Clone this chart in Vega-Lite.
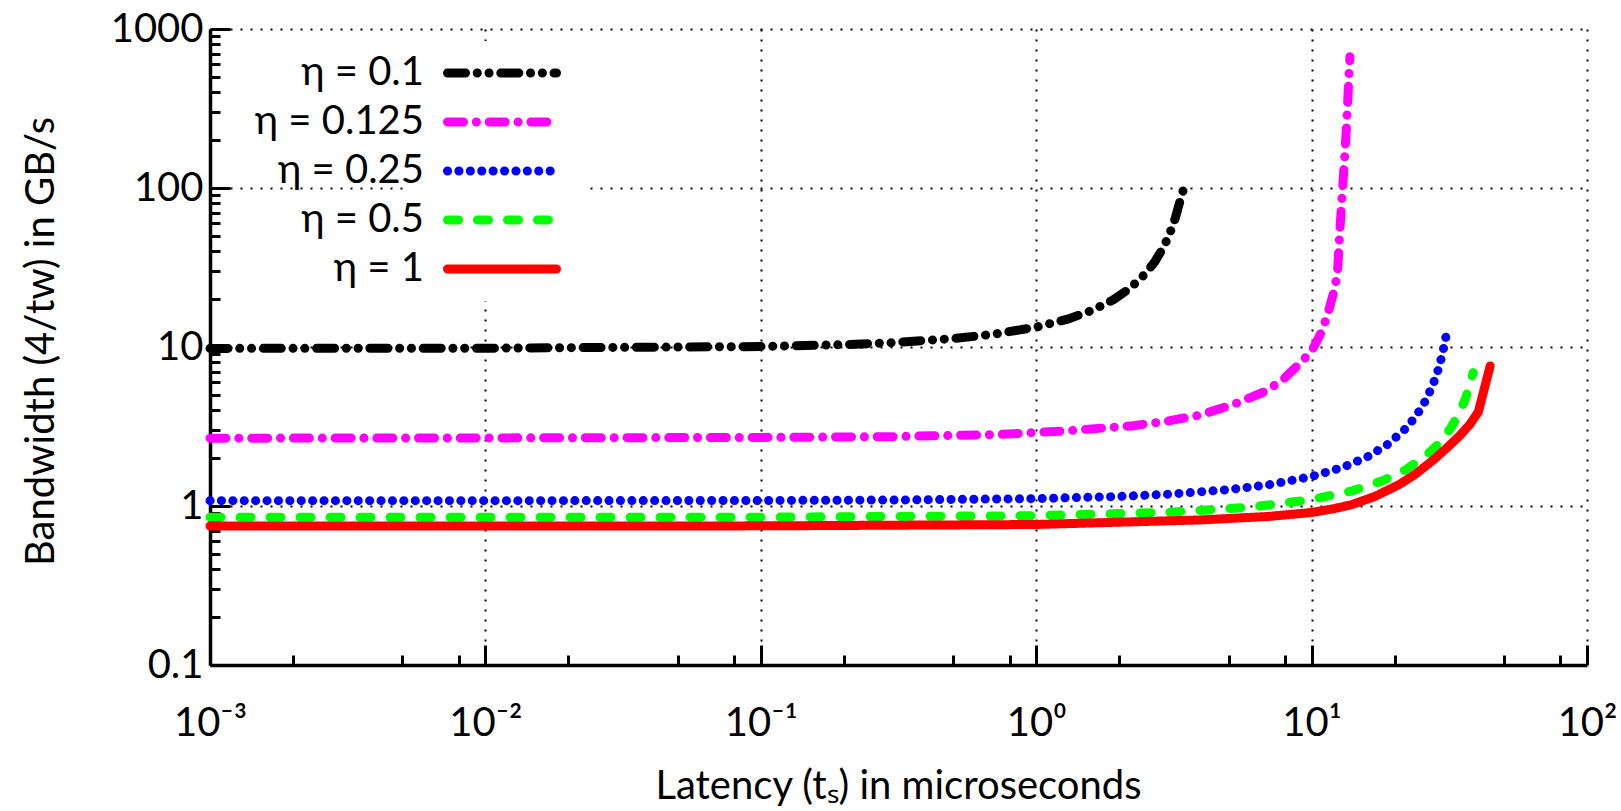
{
  "$schema": "https://vega.github.io/schema/vega-lite/v6.json",
  "width": 1377,
  "height": 636,
  "autosize": {"type": "none"},
  "padding": {"left": 210, "top": 29, "right": 34, "bottom": 146},
  "config": {
    "view": {"stroke": null},
    "font": "Lato"
  },
  "data": {
    "values": [
      {"eta": "η = 0.1", "t": 0.001, "bw": 9.8},
      {"eta": "η = 0.1", "t": 0.01, "bw": 9.83},
      {"eta": "η = 0.1", "t": 0.1, "bw": 10.07},
      {"eta": "η = 0.1", "t": 0.2, "bw": 10.35},
      {"eta": "η = 0.1", "t": 0.3, "bw": 10.65},
      {"eta": "η = 0.1", "t": 0.5, "bw": 11.3},
      {"eta": "η = 0.1", "t": 0.7, "bw": 12.03},
      {"eta": "η = 0.1", "t": 1.0, "bw": 13.34},
      {"eta": "η = 0.1", "t": 1.3, "bw": 14.96},
      {"eta": "η = 0.1", "t": 1.6, "bw": 17.03},
      {"eta": "η = 0.1", "t": 1.9, "bw": 19.76},
      {"eta": "η = 0.1", "t": 2.2, "bw": 23.53},
      {"eta": "η = 0.1", "t": 2.5, "bw": 29.09},
      {"eta": "η = 0.1", "t": 2.7, "bw": 34.53},
      {"eta": "η = 0.1", "t": 2.9, "bw": 42.46},
      {"eta": "η = 0.1", "t": 3.05, "bw": 51.3},
      {"eta": "η = 0.1", "t": 3.2, "bw": 64.8},
      {"eta": "η = 0.1", "t": 3.3, "bw": 78.6},
      {"eta": "η = 0.1", "t": 3.42, "bw": 97},
      {"eta": "η = 0.125", "t": 0.001, "bw": 2.67},
      {"eta": "η = 0.125", "t": 0.01, "bw": 2.68},
      {"eta": "η = 0.125", "t": 0.1, "bw": 2.7},
      {"eta": "η = 0.125", "t": 0.3, "bw": 2.73},
      {"eta": "η = 0.125", "t": 0.74, "bw": 2.82},
      {"eta": "η = 0.125", "t": 1.29, "bw": 2.97},
      {"eta": "η = 0.125", "t": 2.25, "bw": 3.2},
      {"eta": "η = 0.125", "t": 3.0, "bw": 3.42},
      {"eta": "η = 0.125", "t": 3.93, "bw": 3.73},
      {"eta": "η = 0.125", "t": 5.2, "bw": 4.35},
      {"eta": "η = 0.125", "t": 6.87, "bw": 5.3},
      {"eta": "η = 0.125", "t": 8.0, "bw": 6.4},
      {"eta": "η = 0.125", "t": 9.08, "bw": 7.9},
      {"eta": "η = 0.125", "t": 10.0, "bw": 9.4},
      {"eta": "η = 0.125", "t": 10.73, "bw": 11.9},
      {"eta": "η = 0.125", "t": 11.3, "bw": 15},
      {"eta": "η = 0.125", "t": 11.7, "bw": 18.5},
      {"eta": "η = 0.125", "t": 12.1, "bw": 23},
      {"eta": "η = 0.125", "t": 12.41, "bw": 29},
      {"eta": "η = 0.125", "t": 12.69, "bw": 57},
      {"eta": "η = 0.125", "t": 12.96, "bw": 100},
      {"eta": "η = 0.125", "t": 13.14, "bw": 143},
      {"eta": "η = 0.125", "t": 13.41, "bw": 255},
      {"eta": "η = 0.125", "t": 13.6, "bw": 433},
      {"eta": "η = 0.125", "t": 13.78, "bw": 670},
      {"eta": "η = 0.25", "t": 0.001, "bw": 1.08},
      {"eta": "η = 0.25", "t": 0.01, "bw": 1.08},
      {"eta": "η = 0.25", "t": 0.1, "bw": 1.083},
      {"eta": "η = 0.25", "t": 0.3, "bw": 1.09},
      {"eta": "η = 0.25", "t": 1, "bw": 1.113},
      {"eta": "η = 0.25", "t": 2, "bw": 1.148},
      {"eta": "η = 0.25", "t": 3, "bw": 1.185},
      {"eta": "η = 0.25", "t": 5, "bw": 1.267},
      {"eta": "η = 0.25", "t": 7, "bw": 1.361},
      {"eta": "η = 0.25", "t": 10, "bw": 1.532},
      {"eta": "η = 0.25", "t": 13, "bw": 1.752},
      {"eta": "η = 0.25", "t": 16, "bw": 2.045},
      {"eta": "η = 0.25", "t": 19, "bw": 2.457},
      {"eta": "η = 0.25", "t": 22, "bw": 3.077},
      {"eta": "η = 0.25", "t": 24, "bw": 3.698},
      {"eta": "η = 0.25", "t": 26, "bw": 4.635},
      {"eta": "η = 0.25", "t": 27.5, "bw": 5.72},
      {"eta": "η = 0.25", "t": 28.7, "bw": 7.04},
      {"eta": "η = 0.25", "t": 29.7, "bw": 8.72},
      {"eta": "η = 0.25", "t": 30.5, "bw": 10.77},
      {"eta": "η = 0.25", "t": 31.1, "bw": 13.08},
      {"eta": "η = 0.5", "t": 0.001, "bw": 0.849},
      {"eta": "η = 0.5", "t": 0.01, "bw": 0.849},
      {"eta": "η = 0.5", "t": 0.1, "bw": 0.851},
      {"eta": "η = 0.5", "t": 1, "bw": 0.869},
      {"eta": "η = 0.5", "t": 3, "bw": 0.911},
      {"eta": "η = 0.5", "t": 6, "bw": 0.983},
      {"eta": "η = 0.5", "t": 10, "bw": 1.098},
      {"eta": "η = 0.5", "t": 14, "bw": 1.244},
      {"eta": "η = 0.5", "t": 18, "bw": 1.436},
      {"eta": "η = 0.5", "t": 22, "bw": 1.694},
      {"eta": "η = 0.5", "t": 26, "bw": 2.069},
      {"eta": "η = 0.5", "t": 29, "bw": 2.48},
      {"eta": "η = 0.5", "t": 32, "bw": 3.094},
      {"eta": "η = 0.5", "t": 34, "bw": 3.707},
      {"eta": "η = 0.5", "t": 36, "bw": 4.62},
      {"eta": "η = 0.5", "t": 37.5, "bw": 5.67},
      {"eta": "η = 0.5", "t": 38.6, "bw": 6.9},
      {"eta": "η = 1", "t": 0.001, "bw": 0.748},
      {"eta": "η = 1", "t": 0.01, "bw": 0.748},
      {"eta": "η = 1", "t": 0.1, "bw": 0.75},
      {"eta": "η = 1", "t": 1, "bw": 0.765},
      {"eta": "η = 1", "t": 3.93, "bw": 0.817},
      {"eta": "η = 1", "t": 7, "bw": 0.86},
      {"eta": "η = 1", "t": 10, "bw": 0.91},
      {"eta": "η = 1", "t": 12, "bw": 0.96},
      {"eta": "η = 1", "t": 14, "bw": 1.02},
      {"eta": "η = 1", "t": 17, "bw": 1.15},
      {"eta": "η = 1", "t": 20.9, "bw": 1.37},
      {"eta": "η = 1", "t": 24, "bw": 1.6},
      {"eta": "η = 1", "t": 27.7, "bw": 1.95},
      {"eta": "η = 1", "t": 31, "bw": 2.32},
      {"eta": "η = 1", "t": 34.6, "bw": 2.78},
      {"eta": "η = 1", "t": 37.5, "bw": 3.25},
      {"eta": "η = 1", "t": 40.3, "bw": 3.9},
      {"eta": "η = 1", "t": 44.5, "bw": 7.6}
    ]
  },
  "resolve": {"axis": {"x": "independent", "y": "independent"}},
  "layer": [
    {
      "mark": {"type": "line", "strokeWidth": 9, "strokeCap": "round", "strokeJoin": "round"},
      "encoding": {
        "x": {
          "field": "t", "type": "quantitative",
          "scale": {"type": "log", "domain": [0.001, 100], "nice": false},
          "axis": {
            "orient": "bottom",
            "values": [0.001, 0.01, 0.1, 1, 10, 100],
            "labelExpr": "datum.value < 0.005 ? '10⁻³' : datum.value < 0.05 ? '10⁻²' : datum.value < 0.5 ? '10⁻¹' : datum.value < 5 ? '10⁰' : datum.value < 50 ? '10¹' : '10²'",
            "labelFlush": false, "labelOverlap": false, "labelBound": false,
            "grid": true, "gridColor": "#000000", "gridDash": [2, 8], "gridWidth": 2, "gridOpacity": 1,
            "tickSize": -20, "tickWidth": 3, "tickColor": "#000000",
            "domainColor": "#000000", "domainWidth": 3.5,
            "labelFont": "Lato", "labelFontSize": 40, "labelColor": "#000000", "labelPadding": 58,
            "title": "Latency (tₛ) in microseconds",
            "titleFont": "Lato", "titleFontSize": 40, "titleFontWeight": "normal", "titleColor": "#000000",
            "titleX": 688, "titleY": 133, "titleAlign": "center", "titleBaseline": "alphabetic", "titleAngle": 0
          }
        },
        "y": {
          "field": "bw", "type": "quantitative",
          "scale": {"type": "log", "domain": [0.1, 1000], "nice": false},
          "axis": {
            "orient": "left",
            "values": [0.1, 1, 10, 100, 1000],
            "labelExpr": "datum.value < 0.5 ? '0.1' : format(datum.value, 'd')",
            "labelOverlap": false, "labelBound": false, "labelFlush": false,
            "grid": true, "gridColor": "#000000", "gridDash": [2, 8], "gridWidth": 2, "gridOpacity": 1,
            "tickSize": -20, "tickWidth": 3, "tickColor": "#000000",
            "domainColor": "#000000", "domainWidth": 3.5,
            "labelFont": "Lato", "labelFontSize": 40, "labelColor": "#000000", "labelPadding": 27,
            "title": "Bandwidth (4/tw) in GB/s",
            "titleFont": "Lato", "titleFontSize": 40, "titleFontWeight": "normal", "titleColor": "#000000",
            "titleX": -169, "titleY": 312, "titleAngle": -90, "titleAlign": "center", "titleBaseline": "middle"
          }
        },
        "color": {
          "field": "eta", "type": "nominal",
          "scale": {
            "domain": ["η = 0.1", "η = 0.125", "η = 0.25", "η = 0.5", "η = 1"],
            "range": ["#000000", "#ff00ff", "#0000ff", "#00ff00", "#ff0000"]
          },
          "legend": {
            "orient": "none", "legendX": 200, "legendY": 12, "title": null,
            "labelFont": "Lato", "labelFontSize": 40, "labelColor": "#000000", "labelLimit": 0,
            "labelAlign": "right", "labelOffset": -98,
            "symbolType": "M-6,0H6", "symbolSize": 330, "symbolStrokeWidth": 9, "symbolOffset": 60,
            "rowPadding": 9,
            "fillColor": "#ffffff", "padding": 12,
            "encode": {"symbols": {"update": {"strokeCap": {"value": "round"}}}}
          }
        },
        "strokeDash": {
          "field": "eta", "type": "nominal",
          "scale": {
            "domain": ["η = 0.1", "η = 0.125", "η = 0.25", "η = 0.5", "η = 1"],
            "range": [[18, 11.7, 0.1, 11.7, 0.1, 11.7], [16, 12.8, 0.1, 12.8], [0.1, 11.3], [11, 19], [1, 0]]
          },
          "legend": {
            "orient": "none", "legendX": 200, "legendY": 12, "title": null,
            "labelFont": "Lato", "labelFontSize": 40, "labelColor": "#000000", "labelLimit": 0,
            "labelAlign": "right", "labelOffset": -98,
            "symbolType": "M-6,0H6", "symbolSize": 330, "symbolStrokeWidth": 9, "symbolOffset": 60,
            "rowPadding": 9,
            "fillColor": "#ffffff", "padding": 12,
            "encode": {"symbols": {"update": {"strokeCap": {"value": "round"}}}}
          }
        }
      }
    },
    {
      "mark": {"type": "point", "opacity": 0},
      "encoding": {
        "x": {
          "field": "t", "type": "quantitative",
          "scale": {"type": "log", "domain": [0.001, 100], "nice": false},
          "axis": {
            "orient": "bottom",
            "values": [0.002, 0.005, 0.008, 0.02, 0.05, 0.08, 0.2, 0.5, 0.8, 2, 5, 8, 20, 50, 80],
            "labels": false, "grid": false, "domain": false, "title": null,
            "tickSize": -10, "tickWidth": 3, "tickColor": "#000000"
          }
        },
        "y": {
          "field": "bw", "type": "quantitative",
          "scale": {"type": "log", "domain": [0.1, 1000], "nice": false},
          "axis": {
            "orient": "left",
            "values": [0.2, 0.3, 0.4, 0.5, 0.6, 0.7, 0.8, 0.9, 2, 3, 4, 5, 6, 7, 8, 9, 20, 30, 40, 50, 60, 70, 80, 90, 200, 300, 400, 500, 600, 700, 800, 900],
            "labels": false, "grid": false, "domain": false, "title": null,
            "tickSize": -10, "tickWidth": 3, "tickColor": "#000000"
          }
        }
      }
    }
  ]
}
